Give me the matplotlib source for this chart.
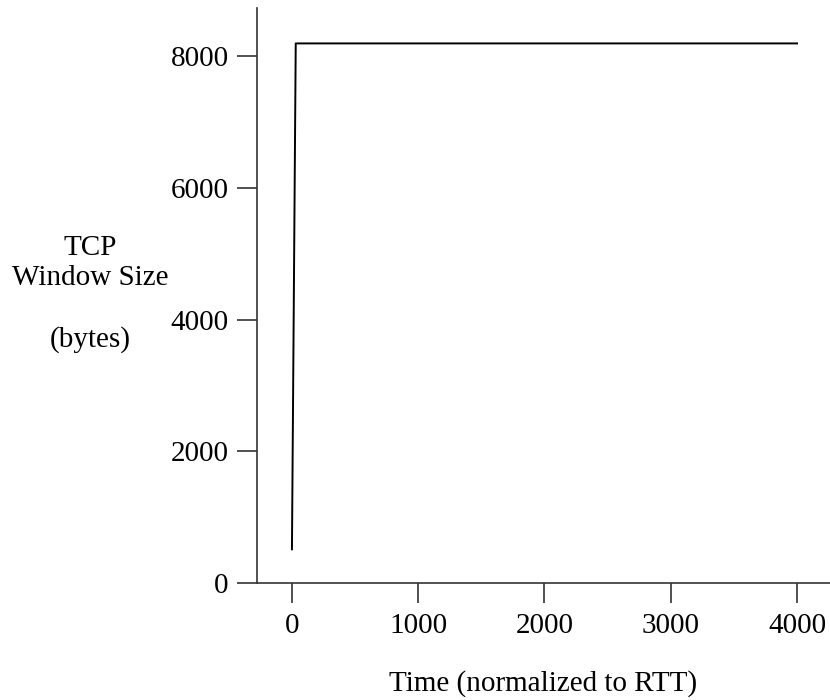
import matplotlib
matplotlib.use("Agg")
import matplotlib.pyplot as plt

# window growth (bytes) against time in RTTs
time_rtt = [0, 2, 4, 6, 8, 10, 12, 14, 16, 18, 20, 22, 24, 26, 28, 30, 4000]
window = [512, 1024, 1536, 2048, 2560, 3072, 3584, 4096, 4608, 5120,
          5632, 6144, 6656, 7168, 7680, 8192, 8192]

x_ticks = [0, 1000, 2000, 3000, 4000]
y_ticks = [0, 2000, 4000, 6000, 8000]

plt.rcParams['font.family'] = ['Liberation Serif', 'DejaVu Serif']
plt.rcParams['font.size'] = 21

fig = plt.figure(figsize=(8.3, 7), dpi=100)
ax = fig.add_axes([0.3096, 0.1671, 0.6904, 0.8215])

ax.plot(time_rtt, window, color='black', lw=1.4)

ax.set_xlim(-277, 4261)
ax.set_ylim(0, 8730)
ax.set_xticks(x_ticks)
ax.set_yticks(y_ticks)
ax.tick_params(direction='out', length=14.4, width=1.2, color='#333333', pad=6)
ax.tick_params(axis='x', pad=7.5)

for side in ['top', 'right']:
    ax.spines[side].set_visible(False)
for side in ['left', 'bottom']:
    ax.spines[side].set_color('#333333')
    ax.spines[side].set_linewidth(1.2)

ax.set_xlabel('Time (normalized to RTT)', labelpad=22)
fig.text(90 / 830, 1 - 294 / 700, 'TCP\nWindow Size\n\n(bytes)',
         ha='center', va='center', multialignment='center', linespacing=1.2)

fig.savefig('out.png', dpi=100)
